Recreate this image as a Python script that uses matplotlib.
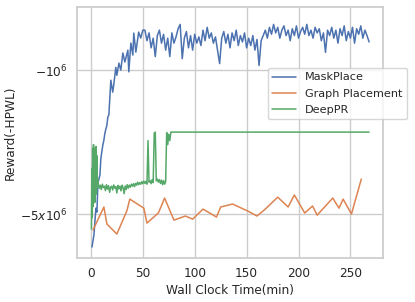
import numpy as np
import matplotlib
matplotlib.use("Agg")
import matplotlib.pyplot as plt
import seaborn as sns

# ------------------------------
# 1. Data (HPWL in units of 1e6, reward = -HPWL)
# ------------------------------
maskplace_t = [1, 2.9, 4.8, 5.8, 6.7, 8.7, 9.6, 11.5, 12.5, 13.5, 15.4, 16.3, 17.3,
               19.2, 21, 22, 24, 25, 27, 28.8, 30.8, 32.7, 35.6, 36.5, 38.5, 40.4,
               41.3, 43.3, 46, 48, 50] + list(range(52, 269, 2))
maskplace_hpwl = [7.23, 6.32, 4.68, 4.89, 3.54, 3.23, 2.68, 2.31, 2.19, 2.02, 1.85, 1.69, 1.65,
                  1.12, 1.28, 1.18, 0.97, 1.06, 0.925, 1.0, 0.826, 0.914, 0.80, 1.02, 0.739, 0.845,
                  0.661, 0.818, 0.654, 0.699, 0.64,
                  0.64, 0.72, 0.66, 0.78, 0.70, 0.86, 0.68, 0.64, 0.74, 0.67,
                  0.80, 0.70, 0.86, 0.66, 0.74, 0.69, 0.63, 0.60, 0.88, 0.70,
                  0.65, 0.78, 0.68, 0.80, 0.67, 0.74, 0.69, 0.76, 0.64, 0.72,
                  0.62, 0.70, 0.66, 0.74, 0.69, 0.80, 0.93, 0.70, 0.65, 0.74,
                  0.67, 0.78, 0.66, 0.72, 0.64, 0.76, 0.68, 0.73, 0.66, 0.78,
                  0.70, 0.76, 0.68, 0.80, 0.71, 0.95, 0.72, 0.68, 0.64, 0.70,
                  0.62, 0.67, 0.60, 0.66, 0.62, 0.70, 0.64, 0.61, 0.68, 0.64,
                  0.72, 0.63, 0.68, 0.61, 0.70, 0.65, 0.62, 0.67, 0.60, 0.68,
                  0.64, 0.70, 0.62, 0.66, 0.63, 0.72, 0.66, 0.82, 0.64, 0.68,
                  0.62, 0.70, 0.64, 0.74, 0.63, 0.68, 0.61, 0.72, 0.65, 0.70,
                  0.62, 0.74, 0.63, 0.67, 0.61, 0.70, 0.64, 0.68, 0.73]

graph_t = [2, 12.5, 15.4, 25, 34.6, 37.5, 51, 54, 65, 71, 80, 91, 98, 108, 121, 125,
           136.5, 151, 160, 168, 180, 190, 196, 206, 213.5, 218, 233, 239, 243, 251, 260.5]
graph_hpwl = [5.98, 4.62, 5.59, 6.25, 4.83, 4.23, 4.68, 5.53, 4.94, 4.18, 5.35, 5.11, 5.29,
              4.73, 5.17, 4.62, 4.47, 4.83, 5.11, 4.73, 4.14, 4.62, 4.04, 4.94, 4.57, 5.06,
              4.18, 4.68, 4.23, 5.00, 3.38]

deeppr_t = [0.5, 0.9, 1.3, 1.7, 2.1, 2.5, 2.9, 3.3, 3.7, 4.1, 4.5, 4.9, 5.3, 5.7, 6.1, 6.5] \
    + list(range(7, 78)) + [268]
deeppr_hpwl = [5.9, 3.0, 5.2, 2.4, 4.6, 2.3, 3.9, 2.4, 4.4, 2.5, 3.6, 2.35, 4.0, 2.6, 3.7, 3.4,
               3.55, 3.75, 3.62, 3.80, 3.58, 3.72, 3.66, 3.85, 3.60, 3.78,
               3.64, 3.92, 3.70, 3.66, 3.82, 3.61, 3.74, 3.68, 3.95, 3.63,
               3.77, 3.66, 3.86, 3.62, 3.72, 3.98, 3.65, 3.80, 3.60, 3.74,
               3.62, 3.70, 3.58, 3.66, 3.56, 3.68, 3.55, 3.62, 3.50, 3.60,
               3.52, 3.58, 3.48, 3.56, 3.46, 3.55, 3.47, 3.58, 2.20, 3.50,
               3.44, 3.56, 3.40, 3.52, 2.02, 2.00, 3.45, 3.38, 3.50, 3.40,
               3.55, 3.42, 3.60, 3.44, 3.58, 3.48, 2.01, 2.30, 2.05, 2.20,
               2.00, 2.00]

ytick_vals = [-1e6, -5e6]
ytick_labels = [r'$-10^6$', r'$-5x10^6$']
xtick_vals = [0, 50, 100, 150, 200, 250]

# ------------------------------
# 2. Plot
# ------------------------------
sns.set_theme(style='whitegrid')
plt.rcParams['font.family'] = ['DejaVu Sans']

def fwd(y):
    y = np.asarray(y, dtype=float)
    return -np.log10(np.maximum(-y, 1e-12))

def inv(f):
    f = np.asarray(f, dtype=float)
    return -np.power(10.0, -f)

fig = plt.figure(figsize=(4.15, 3.02), dpi=100)
ax = fig.add_axes([77 / 415, 44 / 302, 306 / 415, 251 / 302])

pal = sns.color_palette('deep')
ax.plot(maskplace_t, -np.array(maskplace_hpwl) * 1e6, color=pal[0], lw=1.1, label='MaskPlace')
ax.plot(graph_t, -np.array(graph_hpwl) * 1e6, color=pal[1], lw=1.1, label='Graph Placement')
ax.plot(deeppr_t, -np.array(deeppr_hpwl) * 1e6, color=pal[2], lw=1.1, label='DeepPR')

ax.set_yscale('function', functions=(fwd, inv))
ax.set_ylim(-8.17e6, -0.494e6)
ax.set_xlim(-13.4, 281.4)
ax.set_yticks(ytick_vals)
ax.set_yticklabels(ytick_labels)
ax.set_xticks(xtick_vals)
ax.minorticks_off()
ax.tick_params(labelsize=8.7, length=0, pad=6.5)

ax.set_xlabel('Wall Clock Time(min)', fontsize=8.7, labelpad=3)
ax.set_ylabel('Reward(-HPWL)', fontsize=8.7, labelpad=3)

for s in ax.spines.values():
    s.set_color('0.8')

ax.legend(loc='upper right', bbox_to_anchor=(1.078, 0.757), borderaxespad=0,
          fontsize=8.1, handlelength=2.1, labelspacing=0.55, frameon=True)

fig.savefig('out.png', dpi=100)
plt.close(fig)
